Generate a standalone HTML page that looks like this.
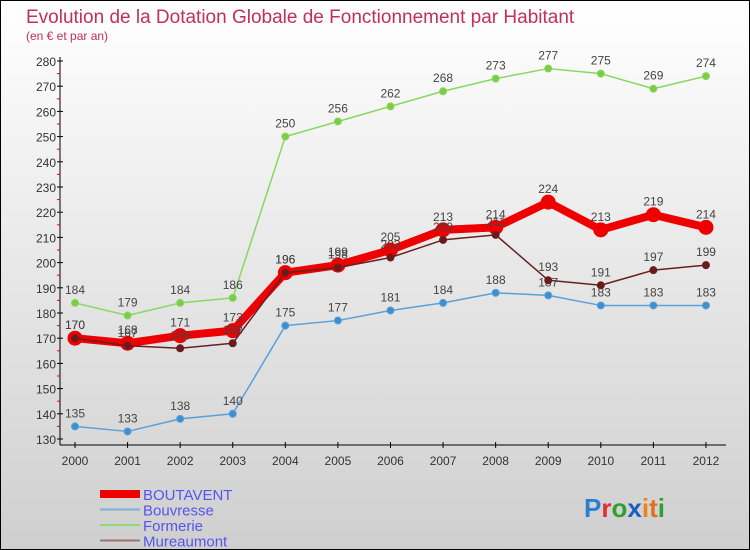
<!DOCTYPE html>
<html><head><meta charset="utf-8"><style>
body{margin:0}
#c{width:748px;height:548px;border:1px solid #000;background:linear-gradient(#fff,#cfcfcf);position:relative;overflow:hidden}
svg text{font-family:"Liberation Sans",sans-serif}
</style></head><body>
<div id="c">
<svg id="s" width="748" height="548"></svg>
</div>
<script>
const years=["2000","2001","2002","2003","2004","2005","2006","2007","2008","2009","2010","2011","2012"];
const yTicks=[130,140,150,160,170,180,190,200,210,220,230,240,250,260,270,280];
const boutavent=[170,168,171,173,196,199,205,213,214,224,213,219,214];
const bouvresse=[135,133,138,140,175,177,181,184,188,187,183,183,183];
const formerie=[184,179,184,186,250,256,262,268,273,277,275,269,274];
const mureaumont=[170,167,166,168,196,198,202,209,211,193,191,197,199];
const NS="http://www.w3.org/2000/svg";
const s=document.getElementById('s');
function el(t,a,p){const e=document.createElementNS(NS,t);for(const k in a)e.setAttribute(k,a[k]);(p||s).appendChild(e);return e;}
const x=i=>74+i*52.58;
const y=v=>438-(v-130)*2.52;
// title
let t=el('text',{x:25,y:22,'font-size':19,fill:'#c0305a'});t.textContent='Evolution de la Dotation Globale de Fonctionnement par Habitant';


t=el('text',{x:25,y:39,'font-size':12,fill:'#c0305a'});t.textContent='(en € et par an)';


// axes
let ax=el('line',{x1:59,y1:56,x2:59,y2:444,stroke:'#000'});


ax=el('line',{x1:59,y1:444,x2:725,y2:444,stroke:'#000'});


yTicks.forEach(v=>{
 el('line',{x1:56,y1:y(v),x2:62,y2:y(v),stroke:'#000'});
 if(v<280)el('line',{x1:56,y1:y(v+5),x2:59,y2:y(v+5),stroke:'#e00'});
 const l=el('text',{x:55,y:y(v)+5,'font-size':12,fill:'#333','text-anchor':'end'});l.textContent=v;
 
 
});
years.forEach((yr,i)=>{
 el('line',{x1:x(i),y1:441,x2:x(i),y2:447,stroke:'#000'});
 const l=el('text',{x:x(i),y:464,'font-size':12,fill:'#333','text-anchor':'middle'});l.textContent=yr;
 
 
});
function series(data,color,w,r,dot,name){
 const g=el('g',{});
 
 
 const pl=el('polyline',{points:data.map((v,i)=>x(i)+','+y(v)).join(' '),fill:'none',stroke:color,'stroke-width':w,'stroke-linejoin':'round'},g);
 
 
 data.forEach((v,i)=>{
  const c=el('circle',{cx:x(i),cy:y(v),r:r,fill:dot,stroke:color,'stroke-width':r>5?3:1},g);
  
  
  const l=el('text',{x:x(i),y:y(v)-9,'font-size':12,fill:'#444','text-anchor':'middle'},g);l.textContent=v;
  
  
 });
}
series(formerie,'#88d860',1.5,3.5,'#7ecb45','formerie');
series(bouvresse,'#5aa0d8',1.5,3.5,'#3a90d0','bouvresse');
series(boutavent,'#ee0000',8,6,'#ee0000','boutavent');
series(mureaumont,'#6a2020',1.5,3.5,'#6a1a1a','mureaumont');
// legend
const leg=[['BOUTAVENT','#ee0000',8],['Bouvresse','#7fb0d8',2],['Formerie','#90d870',2],['Mureaumont','#a07070',2]];
leg.forEach((L,i)=>{
 const yy=493+i*15.5;
 const ln=el('line',{x1:99,y1:yy,x2:139,y2:yy,stroke:L[1],'stroke-width':L[2]});
 
 
 const tx=el('text',{x:142,y:yy+6,'font-size':15,fill:'#5555ee'});tx.textContent=L[0];
 
 
});
// logo
const lg=el('text',{x:583,y:516,'font-size':26,'font-weight':'bold'});


[['P','#2a7fd0'],['r','#e03030'],['o','#30a030'],['x','#1a5fc0'],['i','#f08020'],['t','#e07020'],['i','#30a030']].forEach(p=>{const ts=el('tspan',{fill:p[1]},lg);ts.textContent=p[0];});
</script>
</body></html>
